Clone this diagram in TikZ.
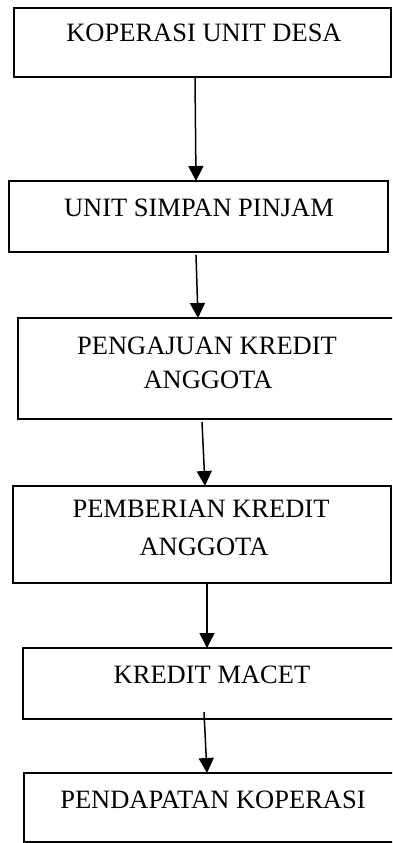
\documentclass[tikz,border=0pt]{standalone}
\usepackage{fontspec}
\setmainfont{Liberation Serif}
\usetikzlibrary{arrows.meta}
\begin{document}
\begin{tikzpicture}[x=1pt,y=-1pt,
  box/.style={draw=black,line width=1.8pt,rectangle,inner sep=0pt,outer sep=0pt},
  lbl/.style={anchor=base,inner sep=0pt,font=\fontsize{26.5}{30}\selectfont},
  arr/.style={line width=1.5pt,-{Triangle[width=15pt,length=15pt]}}]
\useasboundingbox (0,0) rectangle (392,843);
\clip (0,0) rectangle (392,843);
% boxes
\node[box,minimum width=377pt,minimum height=69pt] (b1) at (202.5,42.5) {};
\node[box,minimum width=379pt,minimum height=71pt] (b2) at (198.5,216.5) {};
\node[box,minimum width=376pt,minimum height=101pt] (b3) at (206,368.5) {};
\node[box,minimum width=378pt,minimum height=97pt] (b4) at (202,534.5) {};
\node[box,minimum width=371pt,minimum height=71pt] (b5) at (208.5,683.5) {};
\node[box,minimum width=370pt,minimum height=69pt] (b6) at (209,807.5) {};
% labels
\node[lbl] (t1) at (204,42) {KOPERASI UNIT DESA};
\node[lbl] (t2) at (199,216) {UNIT SIMPAN PINJAM};
\node[lbl] (t3a) at (207,354) {PENGAJUAN KREDIT};
\node[lbl] (t3b) at (208,388) {ANGGOTA};
\node[lbl] (t4a) at (201,517) {PEMBERIAN KREDIT};
\node[lbl] (t4b) at (204,555) {ANGGOTA};
\node[lbl] (t5) at (212,683) {KREDIT MACET};
\node[lbl] (t6) at (213,808) {PENDAPATAN KOPERASI};
% connectors
\draw[arr] ([shift={(-7.5,0)}]b1.south) -- ([shift={(-2.5,0)}]b2.north);
\draw[arr] ([shift={(-2.5,3)}]b2.south) -- ([shift={(-8,0)}]b3.north);
\draw[arr] ([shift={(-4,3)}]b3.south) -- ([shift={(3,0)}]b4.north);
\draw[arr] ([shift={(5,0)}]b4.south) -- ([shift={(-1.5,0)}]b5.north);
\draw[arr] ([shift={(-4.5,-7)}]b5.south) -- ([shift={(-2,0)}]b6.north);
\end{tikzpicture}
\end{document}
